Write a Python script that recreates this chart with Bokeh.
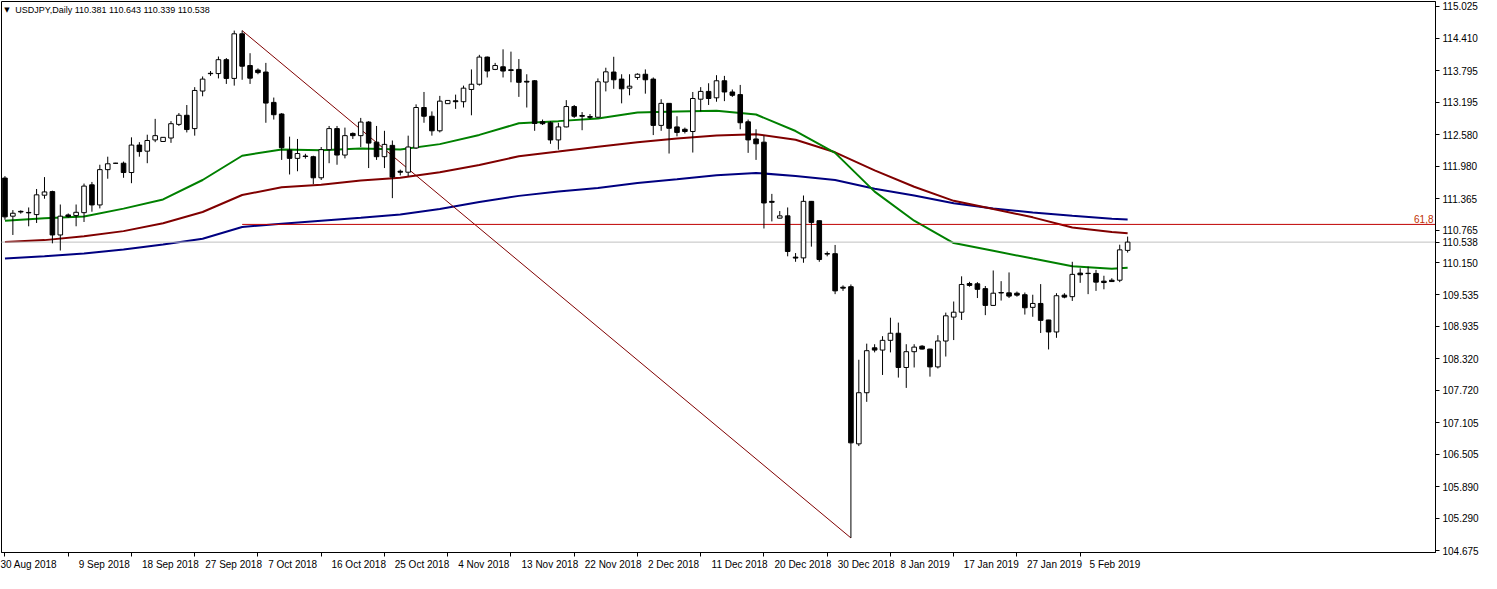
from bokeh.plotting import figure
from bokeh.models import Range1d, FixedTicker, NumeralTickFormatter, ColumnDataSource
from bokeh.embed import file_html
from bokeh.resources import INLINE
from bokeh.core.properties import value

# ---------------- data (USDJPY daily) ----------------
opens = [111.756, 111.031, 111.123, 111.102, 111.061, 111.430, 111.498, 110.674, 111.055, 111.042,
         111.098, 111.627, 111.245, 111.916, 112.038, 112.038, 111.861, 112.383, 112.267, 112.481,
         112.451, 112.517, 112.776, 112.949, 112.696, 113.410, 113.747, 113.742, 114.006, 113.650,
         114.498, 113.895, 113.808, 113.771, 113.194, 112.973, 112.285, 112.130, 112.175, 112.162,
         111.761, 112.296, 112.696, 112.193, 112.604, 112.562, 112.820, 112.438, 112.162, 112.377,
         111.885, 111.867, 112.328, 113.097, 112.931, 112.654, 113.170, 113.225, 113.207, 113.440,
         113.539, 114.055, 113.821, 113.871, 113.815, 113.821, 113.595, 113.605, 112.825, 112.807,
         112.481, 112.728, 113.115, 112.945, 112.925, 112.912, 113.581, 113.771, 113.637, 113.465,
         113.668, 113.729, 113.637, 112.757, 113.176, 112.728, 112.683, 112.641, 113.255, 113.403,
         113.281, 113.605, 113.392, 113.342, 112.825, 112.499, 112.438, 111.313, 110.994, 111.037,
         110.253, 110.238, 111.313, 110.945, 110.320, 110.318, 109.681, 109.691, 106.703, 107.675,
         108.529, 108.486, 108.671, 108.806, 108.155, 108.455, 108.560, 108.505, 108.166, 108.658,
         109.113, 109.206, 109.751, 109.746, 109.654, 109.335, 109.580, 109.574, 109.567, 109.538,
         109.298, 109.372, 109.058, 108.830, 109.530, 109.501, 109.949, 109.946, 109.943, 109.796,
         109.814, 109.814, 110.381]
highs = [111.793, 111.147, 111.142, 111.197, 111.548, 111.774, 111.516, 111.253, 111.083, 111.253,
         111.651, 111.682, 112.009, 112.162, 112.045, 112.069, 112.530, 112.438, 112.580, 112.881,
         112.530, 112.838, 112.991, 113.144, 113.484, 113.687, 113.790, 114.066, 114.037, 114.559,
         114.559, 114.129, 113.840, 113.945, 113.286, 112.991, 112.543, 112.499, 112.217, 112.180,
         112.346, 112.746, 112.746, 112.715, 112.623, 112.899, 112.838, 112.746, 112.654, 112.470,
         111.916, 112.562, 113.157, 113.392, 113.023, 113.318, 113.231, 113.342, 113.513, 113.821,
         114.098, 114.066, 113.945, 114.203, 114.159, 114.018, 113.729, 113.618, 112.868, 112.838,
         112.807, 113.237, 113.145, 113.010, 112.973, 113.650, 113.853, 114.061, 113.729, 113.729,
         113.747, 113.821, 113.668, 113.255, 113.180, 112.931, 112.715, 113.392, 113.484, 113.558,
         113.711, 113.698, 113.440, 113.526, 112.868, 112.683, 112.562, 111.455, 111.129, 111.197,
         110.330, 111.424, 111.320, 110.950, 110.360, 110.484, 109.715, 109.733, 108.302, 108.608,
         108.597, 108.750, 109.101, 109.008, 108.597, 108.597, 108.579, 108.510, 108.769, 109.198,
         109.409, 109.888, 109.783, 109.777, 109.704, 109.999, 109.796, 109.962, 109.598, 109.580,
         109.538, 109.740, 109.060, 109.567, 109.567, 110.164, 110.041, 110.072, 110.010, 109.899,
         109.851, 110.489, 110.643]
lows = [110.963, 110.674, 111.079, 110.839, 110.902, 111.363, 110.515, 110.378, 111.000, 110.839,
        110.921, 111.116, 111.179, 111.743, 112.030, 111.761, 111.658, 112.162, 112.038, 112.438,
        112.451, 112.425, 112.746, 112.623, 112.562, 113.310, 113.698, 113.650, 113.545, 113.513,
        113.624, 113.545, 113.729, 112.807, 112.868, 112.101, 111.824, 111.885, 112.125, 111.640,
        111.719, 112.038, 112.009, 112.130, 112.499, 112.346, 111.946, 112.101, 111.946, 111.374,
        111.806, 111.793, 112.310, 112.807, 112.562, 112.623, 113.170, 113.071, 113.097, 112.949,
        113.513, 113.668, 113.808, 113.668, 113.576, 113.299, 113.097, 112.654, 112.765, 112.407,
        112.296, 112.720, 112.899, 112.665, 112.881, 112.900, 113.403, 113.452, 113.176, 113.329,
        113.624, 113.360, 112.573, 112.654, 112.222, 112.549, 112.604, 112.241, 113.023, 113.145,
        113.207, 113.218, 113.299, 112.683, 112.235, 112.101, 110.797, 110.932, 110.990, 110.268,
        110.164, 110.146, 110.452, 110.164, 110.268, 109.549, 109.611, 104.915, 106.661, 107.502,
        108.442, 108.013, 108.442, 107.963, 107.767, 108.155, 108.498, 107.981, 108.136, 108.363,
        108.676, 109.058, 109.691, 109.475, 109.150, 109.330, 109.427, 109.475, 109.501, 109.161,
        109.119, 108.811, 108.498, 108.719, 109.470, 109.420, 109.764, 109.549, 109.611, 109.641,
        109.783, 109.777, 110.339]
closes = [111.018, 111.087, 111.111, 111.094, 111.437, 111.492, 110.674, 111.031, 111.024, 111.105,
          111.603, 111.245, 111.916, 112.027, 112.036, 111.861, 112.383, 112.259, 112.470, 112.562,
          112.530, 112.789, 112.949, 112.678, 113.421, 113.637, 113.740, 114.006, 113.650, 114.498,
          113.882, 113.655, 113.760, 113.181, 112.960, 112.333, 112.130, 112.222, 112.165, 111.761,
          112.296, 112.696, 112.193, 112.562, 112.562, 112.820, 112.420, 112.162, 112.396, 111.774,
          111.867, 112.346, 113.097, 112.931, 112.654, 113.218, 113.231, 113.207, 113.465, 113.539,
          114.055, 113.790, 113.895, 113.790, 113.800, 113.576, 113.580, 112.794, 112.789, 112.481,
          112.728, 113.115, 112.931, 112.930, 112.910, 113.587, 113.775, 113.624, 113.452, 113.502,
          113.729, 113.624, 112.757, 113.176, 112.702, 112.623, 112.641, 113.268, 113.403, 113.268,
          113.605, 113.392, 113.329, 112.807, 112.481, 112.407, 111.282, 111.295, 111.037, 110.360,
          110.235, 111.313, 110.913, 110.207, 110.310, 109.611, 109.663, 106.722, 107.675, 108.474,
          108.486, 108.671, 108.806, 108.155, 108.455, 108.542, 108.505, 108.166, 108.658, 109.137,
          109.206, 109.733, 109.715, 109.641, 109.335, 109.567, 109.571, 109.512, 109.530, 109.290,
          109.372, 109.051, 108.830, 109.519, 109.493, 109.925, 109.917, 109.940, 109.777, 109.770,
          109.788, 110.391, 110.538]

# moving averages, read at every 5th bar (and the last bar)
ma_idx = [0, 5, 10, 15, 20, 25, 30, 35, 40, 45, 50, 55, 60, 65, 70, 75, 80, 85, 90, 95,
          100, 105, 110, 115, 120, 125, 130, 135, 140, 142]
ma_green = [110.945, 110.994, 111.024, 111.175, 111.350, 111.719, 112.180, 112.300, 112.285, 112.318,
            112.300, 112.401, 112.576, 112.798, 112.838, 112.890, 113.001, 113.019, 113.037, 112.964,
            112.650, 112.235, 111.498, 110.945, 110.520, 110.373, 110.225, 110.078, 110.032, 110.050]
ma_maroon = [110.539, 110.576, 110.650, 110.747, 110.898, 111.111, 111.433, 111.581, 111.627, 111.710,
             111.761, 111.867, 112.005, 112.171, 112.259, 112.352, 112.438, 112.508, 112.567, 112.589,
             112.484, 112.245, 111.903, 111.590, 111.323, 111.166, 111.009, 110.815, 110.732, 110.705]
ma_navy = [110.225, 110.271, 110.323, 110.397, 110.493, 110.603, 110.825, 110.889, 110.945, 111.000,
           111.064, 111.166, 111.302, 111.417, 111.501, 111.568, 111.664, 111.732, 111.811, 111.854,
           111.793, 111.719, 111.553, 111.424, 111.276, 111.175, 111.101, 111.037, 110.981, 110.969]

# Fibonacci tool: from the high bar to the low bar
fib_from_idx, fib_from_price = 30, 114.559
fib_to_idx, fib_to_price = 107, 104.915
fib_level = 0.618
fib_label = "61,8"

bid = 110.538
title_text = "USDJPY,Daily  110.381 110.643 110.339 110.538"

price_ticks = [115.025, 114.410, 113.795, 113.195, 112.580, 111.980, 111.365, 110.765, 110.150,
               109.535, 108.935, 108.320, 107.720, 107.105, 106.505, 105.890, 105.290, 104.675]
date_tick_idx = [0, 8, 16, 24, 32, 40, 48, 56, 64, 72, 80, 88, 96, 104, 112, 120, 128, 136]
date_labels = ["30 Aug 2018", "9 Sep 2018", "18 Sep 2018", "27 Sep 2018", "7 Oct 2018", "16 Oct 2018",
               "25 Oct 2018", "4 Nov 2018", "13 Nov 2018", "22 Nov 2018", "2 Dec 2018", "11 Dec 2018",
               "20 Dec 2018", "30 Dec 2018", "8 Jan 2019", "17 Jan 2019", "27 Jan 2019", "5 Feb 2019"]

# ---------------- figure ----------------
FONT = "Liberation Sans"
W, H = 1481, 573
BR, BB = 46, 21
X0, X1 = -0.4375, 180.94
Y0, Y1 = 104.638, 115.112
frame_h = H - BB - 1
py_per_unit = frame_h / (Y1 - Y0)

p = figure(width=W, height=H, x_range=Range1d(X0, X1), y_range=Range1d(Y0, Y1),
           y_axis_location="right", output_backend="svg", toolbar_location=None,
           min_border_left=1, min_border_top=1, min_border_right=BR, min_border_bottom=BB)
p.background_fill_color = "white"
p.border_fill_color = "white"
p.outline_line_color = "black"
p.grid.visible = False

# price axis (current price shown as an extra label)
p.yaxis.ticker = FixedTicker(ticks=price_ticks + [bid])
p.yaxis.formatter = NumeralTickFormatter(format="0.000")
p.yaxis.major_tick_out = 4
p.yaxis.major_tick_in = 0
p.yaxis.minor_tick_line_color = None
p.yaxis.axis_line_color = "black"
p.yaxis.major_label_standoff = 3
p.yaxis.major_label_text_font = FONT
p.yaxis.major_label_text_font_size = "10px"
p.yaxis.major_label_text_color = "black"

# date axis: MetaTrader writes each date to the right of its tick, so the
# centred Bokeh label is padded on the left with no-break spaces
CHAR_W = {d: 5.56 for d in "0123456789"}
CHAR_W.update({" ": 2.78, "A": 6.67, "u": 5.56, "g": 5.56, "S": 6.67, "e": 5.56, "p": 5.56,
               "O": 7.78, "c": 5.0, "t": 2.78, "N": 7.22, "o": 5.56, "v": 5.0, "D": 7.22,
               "J": 5.0, "a": 5.56, "n": 5.56, "F": 6.11, "b": 5.56})
NBSP_W = 2.15


def left_aligned(label, gap=2.0):
    w = sum(CHAR_W.get(ch, 5.56) for ch in label)
    n = int(round((w + 2 * gap) / NBSP_W))
    return "\u00a0" * n + label


overrides = {}
for k, (i, t) in enumerate(zip(date_tick_idx, date_labels)):
    # the first label is pushed inside the plot by Bokeh anyway, keep it plain
    overrides[i] = t if k == 0 else left_aligned(t)

p.xaxis.ticker = FixedTicker(ticks=date_tick_idx)
p.xaxis.major_label_overrides = overrides
p.xaxis.major_tick_out = 4
p.xaxis.major_tick_in = 0
p.xaxis.minor_tick_line_color = None
p.xaxis.axis_line_color = "black"
p.xaxis.major_label_text_color = "black"
p.xaxis.major_label_text_font = FONT
p.xaxis.major_label_text_font_size = "10px"
p.xaxis.major_label_standoff = 2

# moving averages
p.line(ma_idx, ma_navy, line_color="#000080", line_width=2)
p.line(ma_idx, ma_maroon, line_color="#800000", line_width=2)
p.line(ma_idx, ma_green, line_color="#008000", line_width=2)

# bid line
p.line([X0 - 1, X1 + 1], [bid, bid], line_color="#C0C0C0", line_width=1)

# fibonacci diagonal and level
p.line([fib_from_idx, fib_to_idx], [fib_from_price, fib_to_price], line_color="#800000", line_width=1)
fib_price = fib_to_price + fib_level * (fib_from_price - fib_to_price)
p.line([fib_from_idx, X1 + 1], [fib_price, fib_price], line_color="#C00000", line_width=1)
p.text(x=[X1 - 0.25], y=[fib_price + 1.5 / py_per_unit], text=[fib_label], text_align="right",
       text_baseline="bottom", text_font=value(FONT), text_font_size="10px", text_color="#C03000")

# candles
idx = list(range(len(opens)))
src = ColumnDataSource(dict(
    i=idx, h=highs, l=lows,
    top=[max(o, c) for o, c in zip(opens, closes)],
    bot=[min(o, c) for o, c in zip(opens, closes)],
    fill=["white" if c >= o else "black" for o, c in zip(opens, closes)],
))
p.segment(x0="i", y0="h", x1="i", y1="l", source=src, line_color="black", line_width=1)
p.vbar(x="i", top="top", bottom="bot", width=0.58, source=src, fill_color="fill",
       line_color="black", line_width=1)

# title
p.text(x=[X0 + 0.35], y=[Y1 - 8 / py_per_unit], text=["\u25BC"], text_baseline="middle",
       text_font=value("DejaVu Sans"), text_font_size="7px", text_color="black")
p.text(x=[X0 + 1.75], y=[Y1 - 8 / py_per_unit], text=[title_text], text_baseline="middle",
       text_font=value(FONT), text_font_size="9px", text_color="black")

open("out.html", "w").write(file_html(p, INLINE))
